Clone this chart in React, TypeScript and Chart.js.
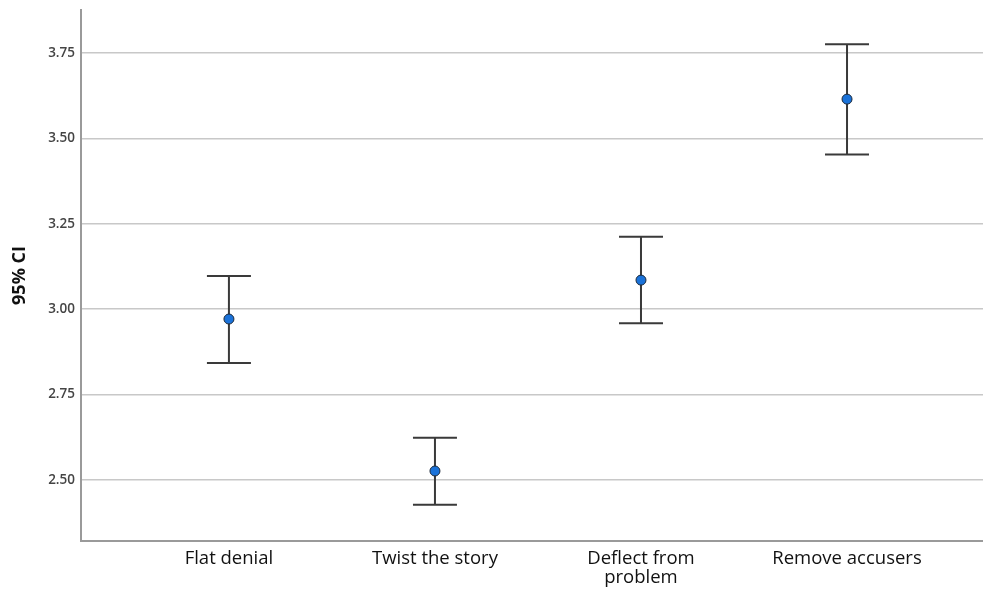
import React, { useEffect, useRef } from "react";
import { Chart, registerables } from "chart.js";

Chart.register(...registerables);

const categories: (string | string[])[] = ["Flat denial", "Twist the story", ["Deflect from", "problem"], "Remove accusers"];
const means = [2.971, 2.526, 3.085, 3.615];
const upper = [3.097, 2.623, 3.212, 3.776];
const lower = [2.842, 2.427, 2.959, 3.453];
const yTicks = [2.5, 2.75, 3.0, 3.25, 3.5, 3.75];

const errorBarPlugin = {
  id: "errorBars",
  beforeDatasetsDraw(chart: any) {
    const ctx = chart.ctx;
    const xs = chart.scales.x;
    const ys = chart.scales.y;
    ctx.save();
    ctx.strokeStyle = "#3a3a3a";
    ctx.lineWidth = 2;
    means.forEach((_, i) => {
      const px = xs.getPixelForValue(i + 1);
      const pt = ys.getPixelForValue(upper[i]);
      const pb = ys.getPixelForValue(lower[i]);
      const half = 22;
      ctx.beginPath();
      ctx.moveTo(px, pt);
      ctx.lineTo(px, pb);
      ctx.moveTo(px - half, pt);
      ctx.lineTo(px + half, pt);
      ctx.moveTo(px - half, pb);
      ctx.lineTo(px + half, pb);
      ctx.stroke();
    });
    ctx.restore();
  },
};

export default function App() {
  const ref = useRef<HTMLCanvasElement | null>(null);
  useEffect(() => {
    if (!ref.current) return;
    const chart = new Chart(ref.current, {
      type: "scatter",
      data: {
        datasets: [
          {
            data: means.map((m, i) => ({ x: i + 1, y: m })),
            backgroundColor: "#1a72d9",
            borderColor: "#1d2a3a",
            borderWidth: 1,
            pointRadius: 5,
          },
        ],
      },
      plugins: [errorBarPlugin],
      options: {
        animation: false,
        responsive: false,
        maintainAspectRatio: false,
        layout: { autoPadding: false, padding: { left: 0, right: 0, top: 10, bottom: 0 } },
        plugins: { legend: { display: false }, tooltip: { enabled: false } },
        scales: {
          x: {
            type: "linear",
            min: 0.282,
            max: 4.66,
            afterBuildTicks: (s: any) => {
              s.ticks = [1, 2, 3, 4].map((v) => ({ value: v }));
            },
            afterFit: (s: any) => {
              s.height = 49;
              s.paddingLeft = 0;
              s.paddingRight = 0;
            },
            ticks: {
              autoSkip: false,
              maxRotation: 0,
              padding: 8,
              color: "#111",
              font: { family: "Open Sans", size: 18.5, lineHeight: 1.05 },
              callback: (v: any) => categories[Number(v) - 1] as any,
            },
            grid: { display: false, drawTicks: false },
            border: { display: true, color: "#9a9a9a", width: 2 },
          },
          y: {
            min: 2.321,
            max: 3.876,
            afterBuildTicks: (s: any) => {
              s.ticks = yTicks.map((v) => ({ value: v }));
            },
            afterFit: (s: any) => {
              s.width = 81;
              s.paddingTop = 0;
              s.paddingBottom = 0;
            },
            ticks: {
              padding: 6,
              color: "#444",
              font: { family: "Open Sans", size: 13.5, weight: "600" },
              callback: (v: any) => Number(v).toFixed(2),
            },
            grid: { color: "#c8c8c8", lineWidth: 1.5, drawTicks: false },
            border: { display: true, color: "#9a9a9a", width: 2 },
            title: {
              display: true,
              text: "95% CI",
              color: "#111",
              padding: { top: 9, bottom: 0 },
              font: { family: "Open Sans", size: 18, weight: "bold" },
            },
          },
        },
      },
    });
    return () => chart.destroy();
  }, []);
  return (
    <div style={{ position: "absolute", left: 0, top: 0, width: 983, height: 590, background: "#fff" }}>
      <canvas ref={ref} width={983} height={590} />
    </div>
  );
}
